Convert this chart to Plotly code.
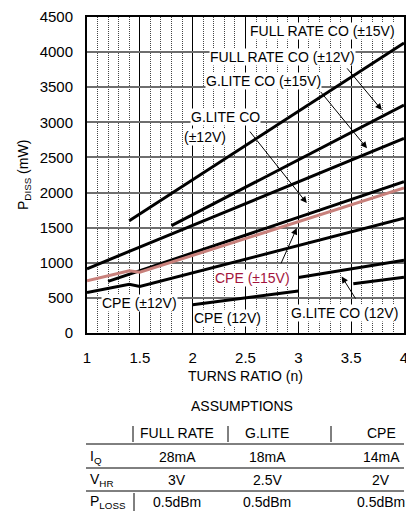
import plotly.graph_objects as go

# ---------------- data ----------------
full15_x = [1.4, 4.0]
full15_y = [1600, 4130]
full12_x = [1.8, 4.0]
full12_y = [1530, 3245]
glite15_x = [1.0, 4.0]
glite15_y = [915, 2770]
glite12_x = [1.2, 4.0]
glite12_y = [735, 2155]
cpe15_x = [1.0, 1.4, 1.5, 4.0]
cpe15_y = [745, 885, 865, 2065]
cpe12_x = [1.0, 1.4, 1.5, 4.0]
cpe12_y = [577, 695, 662, 1635]
cpe_single_x = [2.0, 3.0, None, 3.52, 4.0]
cpe_single_y = [402, 598, None, 700, 795]
glite_single_x = [3.0, 4.0]
glite_single_y = [790, 1035]

x_ticks = [1, 1.5, 2, 2.5, 3, 3.5, 4]
y_ticks = [0, 500, 1000, 1500, 2000, 2500, 3000, 3500, 4000, 4500]

table_title = "ASSUMPTIONS"
table_cols = ["FULL RATE", "G.LITE", "CPE"]
table_rows = ["I<sub>Q</sub>", "V<sub>HR</sub>", "P<sub>LOSS</sub>"]
table_vals = [["28mA", "18mA", "14mA"],
              ["3V", "2.5V", "2V"],
              ["0.5dBm", "0.5dBm", "0.5dBm"]]

# label text, x, y, color
labels = [
    ("FULL RATE CO (±15V)", 3.23, 4300, "black"),
    ("FULL RATE CO (±12V)", 2.85, 3925, "black"),
    ("G.LITE CO (±15V)", 2.675, 3595, "black"),
    ("G.LITE CO", 2.31, 3075, "black"),
    ("(±12V)", 2.12, 2790, "black"),
    ("CPE (±15V)", 2.57, 782, "#a3143c"),
    ("G.LITE CO (12V)", 3.44, 284, "black"),
    ("CPE (12V)", 2.33, 213, "black"),
    ("CPE (±12V)", 1.50, 426, "black"),
]
# arrows: tail x, tail y, head x, head y
arrows = [
    (3.45, 3790, 3.79, 3175),
    (3.20, 3455, 3.65, 2630),
    (2.53, 2890, 3.08, 1850),
    (2.83, 970, 2.985, 1495),
    (3.55, 470, 3.41, 805),
]

FONT = "Liberation Sans, Arial, Helvetica, sans-serif"
BLACK_W = 3

fig = go.Figure()
series = [
    (full15_x, full15_y, "black"),
    (full12_x, full12_y, "black"),
    (glite15_x, glite15_y, "black"),
    (glite12_x, glite12_y, "black"),
    (cpe12_x, cpe12_y, "black"),
    (cpe_single_x, cpe_single_y, "black"),
    (glite_single_x, glite_single_y, "black"),
    (cpe15_x, cpe15_y, "#c8807b"),
]
for xs, ys, col in series:
    fig.add_trace(go.Scatter(x=xs, y=ys, mode="lines",
                             line=dict(color=col, width=BLACK_W),
                             connectgaps=False, hoverinfo="skip",
                             showlegend=False))

# plot area in pixels
L, R, T, B = 87, 404, 17, 333
W, H = 406, 514


def pxx(x):
    return (x - L) / (R - L)


def pxy(y):
    return (B - y) / (B - T)


ann = []
for tx, ty, hx, hy in arrows:
    ann.append(dict(x=hx, y=hy, ax=tx, ay=ty, xref="x", yref="y",
                    axref="x", ayref="y", text="", showarrow=True,
                    arrowhead=2, arrowsize=1.3, arrowwidth=1,
                    arrowcolor="black", standoff=0, startstandoff=0))
for txt, x, y, col in labels:
    ann.append(dict(x=x, y=y, xref="x", yref="y", text=txt, showarrow=False,
                    font=dict(family=FONT, size=14, color=col),
                    bgcolor="white", borderpad=0,
                    xanchor="center", yanchor="middle"))

# axis titles
ann.append(dict(x=pxx(24), y=0.5, xref="paper", yref="paper",
                text="P<sub>DISS</sub> (mW)", textangle=-90, showarrow=False,
                font=dict(family=FONT, size=14, color="black"),
                xanchor="center", yanchor="middle"))
ann.append(dict(x=pxx(245), y=pxy(376), xref="paper", yref="paper",
                text="TURNS RATIO (n)", showarrow=False,
                font=dict(family=FONT, size=14, color="black"),
                xanchor="center", yanchor="middle"))

# table
ann.append(dict(x=pxx(242), y=pxy(406), xref="paper", yref="paper",
                text=table_title, showarrow=False,
                font=dict(family=FONT, size=14, color="black"),
                xanchor="center", yanchor="middle"))
col_centers = [177, 267, 381]
row_centers = [457, 480, 502]
header_y = 433
for c, name in zip(col_centers, table_cols):
    ann.append(dict(x=pxx(c), y=pxy(header_y), xref="paper", yref="paper",
                    text=name, showarrow=False,
                    font=dict(family=FONT, size=14, color="black"),
                    xanchor="center", yanchor="middle"))
for r, rname, vals in zip(row_centers, table_rows, table_vals):
    ann.append(dict(x=pxx(88), y=pxy(r), xref="paper", yref="paper",
                    text=rname, showarrow=False,
                    font=dict(family=FONT, size=14, color="black"),
                    xanchor="left", yanchor="middle"))
    for c, v in zip(col_centers, vals):
        ann.append(dict(x=pxx(c), y=pxy(r), xref="paper", yref="paper",
                        text=v, showarrow=False,
                        font=dict(family=FONT, size=14, color="black"),
                        xanchor="center", yanchor="middle"))

shapes = []
for yl in [444, 468, 491]:
    shapes.append(dict(type="line", xref="paper", yref="paper",
                       x0=pxx(86), x1=pxx(404), y0=pxy(yl), y1=pxy(yl),
                       line=dict(color="black", width=1)))
for xl in [133, 228, 331]:
    shapes.append(dict(type="line", xref="paper", yref="paper",
                       x0=pxx(xl), x1=pxx(xl), y0=pxy(426), y1=pxy(442),
                       line=dict(color="black", width=1)))
shapes.append(dict(type="line", xref="paper", yref="paper",
                   x0=pxx(134), x1=pxx(134), y0=pxy(493), y1=pxy(511),
                   line=dict(color="black", width=1)))

fig.update_layout(
    template="none",
    width=W, height=H,
    margin=dict(l=L, r=W - R, t=T, b=H - B, pad=0),
    paper_bgcolor="white", plot_bgcolor="white",
    font=dict(family=FONT, size=14, color="black"),
    annotations=ann, shapes=shapes,
    xaxis=dict(range=[1, 4], tickvals=x_ticks,
               ticktext=[f"{v:g}" for v in x_ticks],
               showgrid=True, gridcolor="black", gridwidth=1,
               minor=dict(dtick=0.1, tick0=1, showgrid=True,
                          gridcolor="#444444", griddash="1px,1px",
                          gridwidth=1),
               showline=True, mirror=True, linecolor="black", linewidth=2,
               ticks="outside", ticklen=10, tickcolor="rgba(0,0,0,0)",
               tickfont=dict(family=FONT, size=15, color="black"),
               ticklabeloverflow="allow",
               zeroline=False, automargin=False),
    yaxis=dict(range=[0, 4500], tickvals=y_ticks,
               ticktext=[str(v) for v in y_ticks],
               showgrid=True, gridcolor="#6e6e6e", gridwidth=1.5,
               showline=True, mirror=True, linecolor="black", linewidth=2,
               ticks="outside", ticklen=9, tickcolor="rgba(0,0,0,0)",
               tickfont=dict(family=FONT, size=15, color="black"),
               ticklabeloverflow="allow",
               zeroline=False, automargin=False),
)

fig.write_html("out.html")
